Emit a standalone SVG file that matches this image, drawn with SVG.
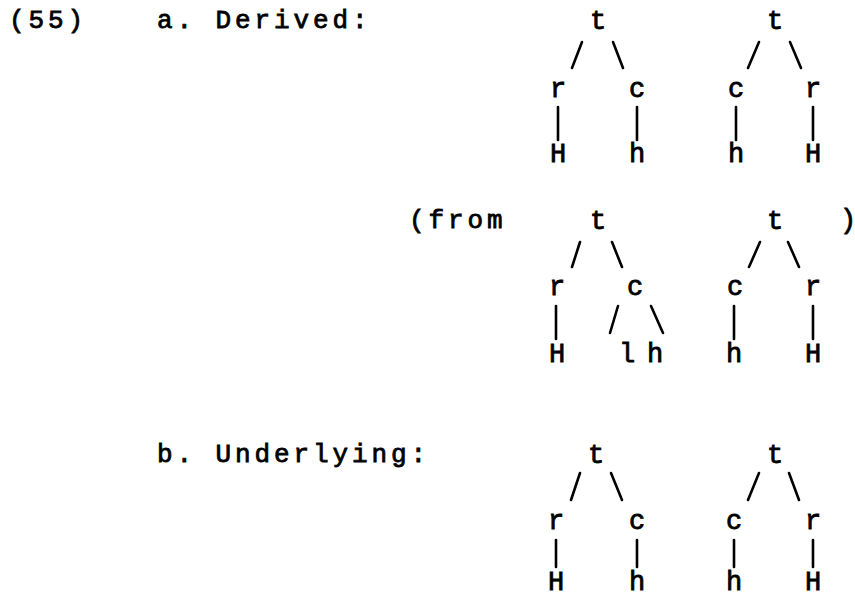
<svg xmlns="http://www.w3.org/2000/svg" width="855" height="597" viewBox="0 0 855 597">
<style>
  text { font-family: "Liberation Mono", "Courier New", monospace; font-size: 26px; fill: #000; stroke: #000; stroke-width: 0.8px; }
  .lbl { letter-spacing: 3.9px; }
  .n { text-anchor: middle; font-size: 27px; }
  .edges line { stroke: #000; stroke-width: 2.6; stroke-linecap: round; }
</style>
<rect width="855" height="597" fill="#fff"/>
<g id="labels">
  <text class="lbl" x="9" y="28">(55)</text>
  <text class="lbl" x="157" y="28">a. Derived:</text>
  <text class="lbl" x="409" y="228">(from</text>
  <text class="n" x="848" y="228">)</text>
  <text class="lbl" x="157" y="462">b. Underlying:</text>
</g>
<g class="edges" id="connectors">
  <line x1="582" y1="42" x2="572" y2="68"/>
  <line x1="613" y1="42" x2="623" y2="68"/>
  <line x1="558" y1="107" x2="558" y2="140"/>
  <line x1="637" y1="107" x2="637" y2="140"/>
  <line x1="759" y1="42" x2="748" y2="68"/>
  <line x1="790" y1="42" x2="801" y2="68"/>
  <line x1="736" y1="107" x2="736" y2="140"/>
  <line x1="813" y1="107" x2="813" y2="140"/>

  <line x1="580" y1="242" x2="572" y2="267"/>
  <line x1="612" y1="242" x2="622" y2="267"/>
  <line x1="556" y1="306" x2="556" y2="339"/>
  <line x1="618" y1="306" x2="610" y2="333"/>
  <line x1="651" y1="306" x2="663" y2="333"/>
  <line x1="760" y1="242" x2="749" y2="267"/>
  <line x1="788" y1="242" x2="799" y2="267"/>
  <line x1="734" y1="306" x2="734" y2="339"/>
  <line x1="813" y1="306" x2="813" y2="339"/>

  <line x1="580" y1="473" x2="571" y2="500"/>
  <line x1="611" y1="473" x2="622" y2="500"/>
  <line x1="556" y1="540" x2="556" y2="567"/>
  <line x1="637" y1="540" x2="637" y2="567"/>
  <line x1="759" y1="473" x2="748" y2="500"/>
  <line x1="789" y1="473" x2="799" y2="500"/>
  <line x1="734" y1="540" x2="734" y2="567"/>
  <line x1="813" y1="540" x2="813" y2="567"/>
</g>
<g id="a-tree1">
  <g id="a1-t"><text class="n" x="598" y="29">t</text></g>
  <g id="a1-r"><text class="n" x="558" y="97">r</text></g>
  <g id="a1-c"><text class="n" x="637" y="97">c</text></g>
  <g id="a1-H"><text class="n" x="558" y="162">H</text></g>
  <g id="a1-h"><text class="n" x="637" y="162">h</text></g>
</g>
<g id="a-tree2">
  <g id="a2-t"><text class="n" x="775" y="29">t</text></g>
  <g id="a2-c"><text class="n" x="736" y="97">c</text></g>
  <g id="a2-r"><text class="n" x="813" y="97">r</text></g>
  <g id="a2-h"><text class="n" x="736" y="162">h</text></g>
  <g id="a2-H"><text class="n" x="813" y="162">H</text></g>
</g>
<g id="from-tree1">
  <g id="f1-t"><text class="n" x="598" y="229">t</text></g>
  <g id="f1-r"><text class="n" x="557" y="295">r</text></g>
  <g id="f1-c"><text class="n" x="635" y="295">c</text></g>
  <g id="f1-H"><text class="n" x="557" y="362">H</text></g>
  <g id="f1-l"><text class="n" x="627" y="362">l</text></g>
  <g id="f1-h"><text class="n" x="655" y="362">h</text></g>
</g>
<g id="from-tree2">
  <g id="f2-t"><text class="n" x="775" y="229">t</text></g>
  <g id="f2-c"><text class="n" x="735" y="295">c</text></g>
  <g id="f2-r"><text class="n" x="813" y="295">r</text></g>
  <g id="f2-h"><text class="n" x="734" y="362">h</text></g>
  <g id="f2-H"><text class="n" x="813" y="362">H</text></g>
</g>
<g id="b-tree1">
  <g id="b1-t"><text class="n" x="596" y="463">t</text></g>
  <g id="b1-r"><text class="n" x="556" y="529">r</text></g>
  <g id="b1-c"><text class="n" x="637" y="529">c</text></g>
  <g id="b1-H"><text class="n" x="556" y="590">H</text></g>
  <g id="b1-h"><text class="n" x="637" y="590">h</text></g>
</g>
<g id="b-tree2">
  <g id="b2-t"><text class="n" x="775" y="463">t</text></g>
  <g id="b2-c"><text class="n" x="734" y="529">c</text></g>
  <g id="b2-r"><text class="n" x="813" y="529">r</text></g>
  <g id="b2-h"><text class="n" x="734" y="590">h</text></g>
  <g id="b2-H"><text class="n" x="813" y="590">H</text></g>
</g>
</svg>
